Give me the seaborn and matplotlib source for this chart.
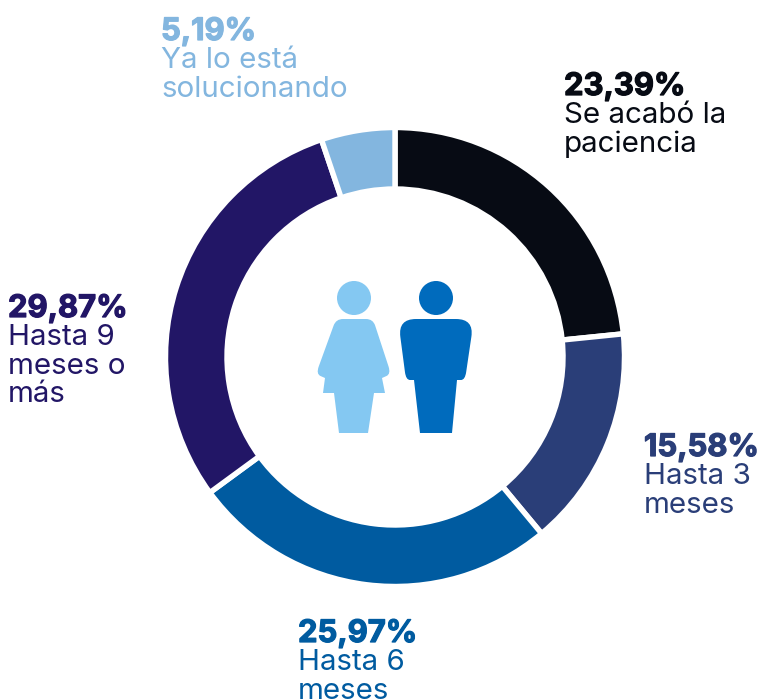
import matplotlib
matplotlib.use("Agg")
import matplotlib.pyplot as plt
import matplotlib.patheffects as pe
from matplotlib.patches import Circle, PathPatch
from matplotlib.path import Path
import seaborn as sns

# datos del grafico
categorias = ["Se acabó la\npaciencia", "Hasta 3\nmeses", "Hasta 6\nmeses", "Hasta 9\nmeses o\nmás", "Ya lo está\nsolucionando"]
valores = [23.39, 15.58, 25.97, 29.87, 5.19]
etiquetas = ["23,39%", "15,58%", "25,97%", "29,87%", "5,19%"]
colores = ["#070B14", "#2A3E78", "#005BA0", "#221666", "#83B6DF"]

# posicion de cada etiqueta (x, linea base de la primera linea) en pixeles
pos_texto = [(564, 95), (644, 456), (298, 642), (8, 317), (161, 40)]

sns.set_theme(style="white")
plt.rcParams["font.family"] = ["Inter", "DejaVu Sans"]

fig = plt.figure(figsize=(7.61, 7.0), dpi=100)
ax = fig.add_axes([0, 0, 1, 1])

# el eje y esta invertido: counterclock=True se ve en sentido horario
ax.pie(valores, colors=colores, startangle=-90, counterclock=True, center=(395, 357), radius=229.5,
       frame=True, wedgeprops=dict(width=61.5, edgecolor="white", linewidth=3.9))
ax.set_xlim(0, 761)
ax.set_ylim(700, 0)
ax.set_aspect("equal")
ax.axis("off")


def forma(puntos):
    # poligono con esquinas redondeadas, cada punto es (x, y, radio)
    verts, codes = [], []
    n = len(puntos)
    for i, (x, y, red) in enumerate(puntos):
        if red:
            xa, ya, _ = puntos[i - 1]
            xb, yb, _ = puntos[(i + 1) % n]
            da = ((xa - x) ** 2 + (ya - y) ** 2) ** 0.5
            db = ((xb - x) ** 2 + (yb - y) ** 2) ** 0.5
            p1 = (x + (xa - x) * min(red, da / 2) / da, y + (ya - y) * min(red, da / 2) / da)
            p2 = (x + (xb - x) * min(red, db / 2) / db, y + (yb - y) * min(red, db / 2) / db)
            verts += [p1, (x, y), p2]
            codes += [Path.LINETO, Path.CURVE3, Path.CURVE3]
        else:
            verts.append((x, y))
            codes.append(Path.LINETO)
    codes[0] = Path.MOVETO
    verts.append(verts[0])
    codes.append(Path.CLOSEPOLY)
    return Path(verts, codes)


# figuras del centro
mujer = [(336, 319, 7), (373, 319, 7), (391, 374, 8), (382, 378, 0), (385, 393, 0), (374, 393, 0),
         (368, 433, 0), (339, 433, 0), (334, 393, 0), (323, 393, 0), (325, 378, 0), (316, 374, 8)]
hombre = [(398, 319, 18), (474, 319, 18), (465, 380, 8), (457, 380, 0), (452, 433, 0),
          (420, 433, 0), (414, 380, 0), (406, 380, 8)]
ax.add_patch(Circle((354, 298), 17, color="#84C8F2", lw=0))
ax.add_patch(PathPatch(forma(mujer), facecolor="#84C8F2", lw=0))
ax.add_patch(Circle((436, 298), 17, color="#006BBD", lw=0))
ax.add_patch(PathPatch(forma(hombre), facecolor="#006BBD", lw=0))

# etiquetas: porcentaje en negrita y texto debajo
for cat, etq, col, (x, y) in zip(categorias, etiquetas, colores, pos_texto):
    ax.text(x, y, etq, color=col, fontsize=22.3, fontweight="bold", va="baseline", ha="left",
            path_effects=[pe.withStroke(linewidth=0.9, foreground=col)])
    for i, linea in enumerate(cat.split("\n")):
        ax.text(x, y + 28.3 * (i + 1), linea, color=col, fontsize=21.3, va="baseline", ha="left")

fig.savefig("out.png", dpi=100)
